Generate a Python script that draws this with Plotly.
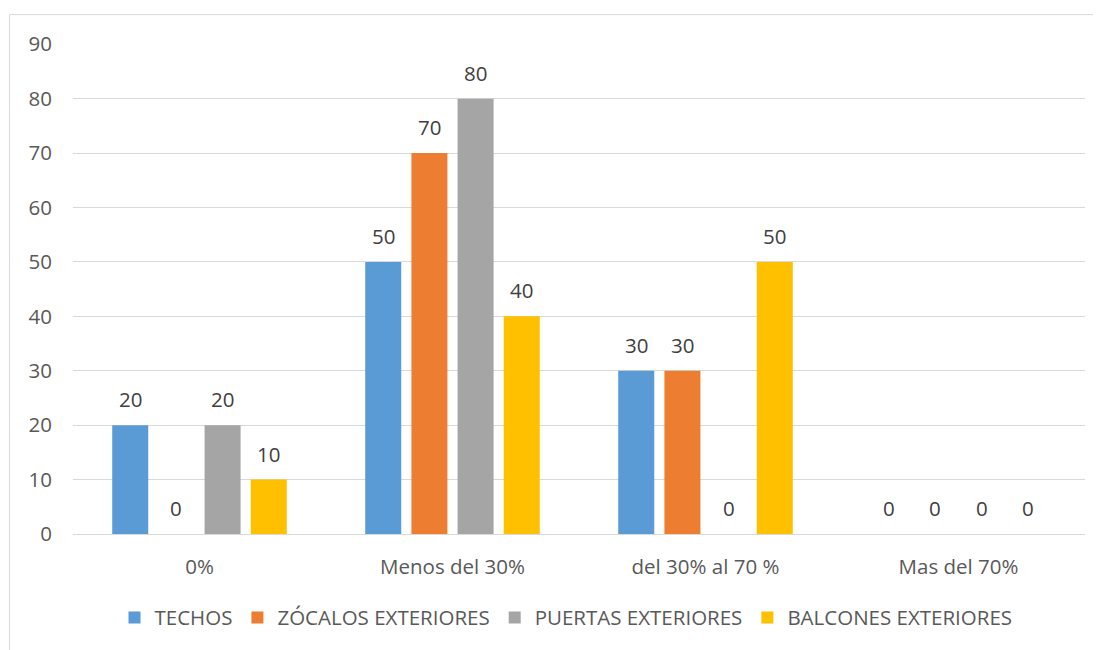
import plotly.graph_objects as go

categories = ["0%", "Menos del 30%", "del 30% al 70 %", "Mas del 70%"]
series_names = ["TECHOS", "ZÓCALOS EXTERIORES", "PUERTAS EXTERIORES", "BALCONES EXTERIORES"]
techos = [20, 50, 30, 0]
zocalos = [0, 70, 30, 0]
puertas = [20, 80, 0, 0]
balcones = [10, 40, 50, 0]
colors = ["#5B9BD5", "#ED7D31", "#A5A5A5", "#FFC000"]
y_ticks = [0, 10, 20, 30, 40, 50, 60, 70, 80, 90]

FONT = "Open Sans"
FS = 20.5
BARGAP, BARGROUPGAP = 0.27, 0.22

OFF = 8  # page offset of the figure
W, H = 1101 - OFF, 650 - OFF
# plot area in screen coordinates
PX0, PX1, PY0, PY1 = 73, 1085, 44, 536
l, r, t, b = PX0 - OFF, OFF + W - PX1, PY0 - OFF, OFF + H - PY1
pw, ph = PX1 - PX0, PY1 - PY0

def px(xs):
    return (xs - PX0) / pw

def py(ys):
    return (PY1 - ys) / ph

all_series = [techos, zocalos, puertas, balcones]
fig = go.Figure()
for name, vals, col in zip(series_names, all_series, colors):
    fig.add_trace(go.Bar(
        x=categories, y=vals, name=name, marker=dict(color=col, line=dict(width=0)),
    ))

# value labels placed above each bar of the group
n = len(all_series)
slot_px = (pw / len(categories)) * (1 - BARGAP) / n
annotations = []
for i, vals in enumerate(all_series):
    for cat, v in zip(categories, vals):
        annotations.append(dict(
            x=cat, y=v, xref="x", yref="y", text=str(v), showarrow=False,
            xshift=(i - (n - 1) / 2) * slot_px, yshift=26, yanchor="middle",
            font=dict(size=FS, color="#404040", family=FONT),
        ))

fig.update_layout(
    width=W, height=H,
    margin=dict(l=l, r=r, t=t, b=b),
    paper_bgcolor="white", plot_bgcolor="white",
    barmode="group", bargap=BARGAP, bargroupgap=BARGROUPGAP,
    font=dict(family=FONT, size=FS, color="#595959"),
    showlegend=True,
    legend=dict(orientation="h", x=px(566), xanchor="center", y=py(620), yanchor="middle",
                font=dict(size=FS, color="#595959", family=FONT), traceorder="normal"),
    xaxis=dict(showgrid=False, showline=False, ticks="", tickfont=dict(size=FS, color="#595959"),
               ticklabelstandoff=18),
    yaxis=dict(range=[0, 90.05], tickvals=y_ticks, showgrid=True, gridcolor="#D9D9D9", gridwidth=1,
               zeroline=True, zerolinecolor="#D9D9D9", zerolinewidth=1, showline=False, ticks="",
               tickfont=dict(size=FS, color="#595959"), ticklabelstandoff=20),
    annotations=annotations,
    shapes=[dict(type="rect", xref="paper", yref="paper", x0=px(9.5), x1=px(1110), y0=py(660), y1=py(14.5),
                 line=dict(color="#D9D9D9", width=1), fillcolor="rgba(0,0,0,0)", layer="below")],
)
fig.write_html("out.html")
